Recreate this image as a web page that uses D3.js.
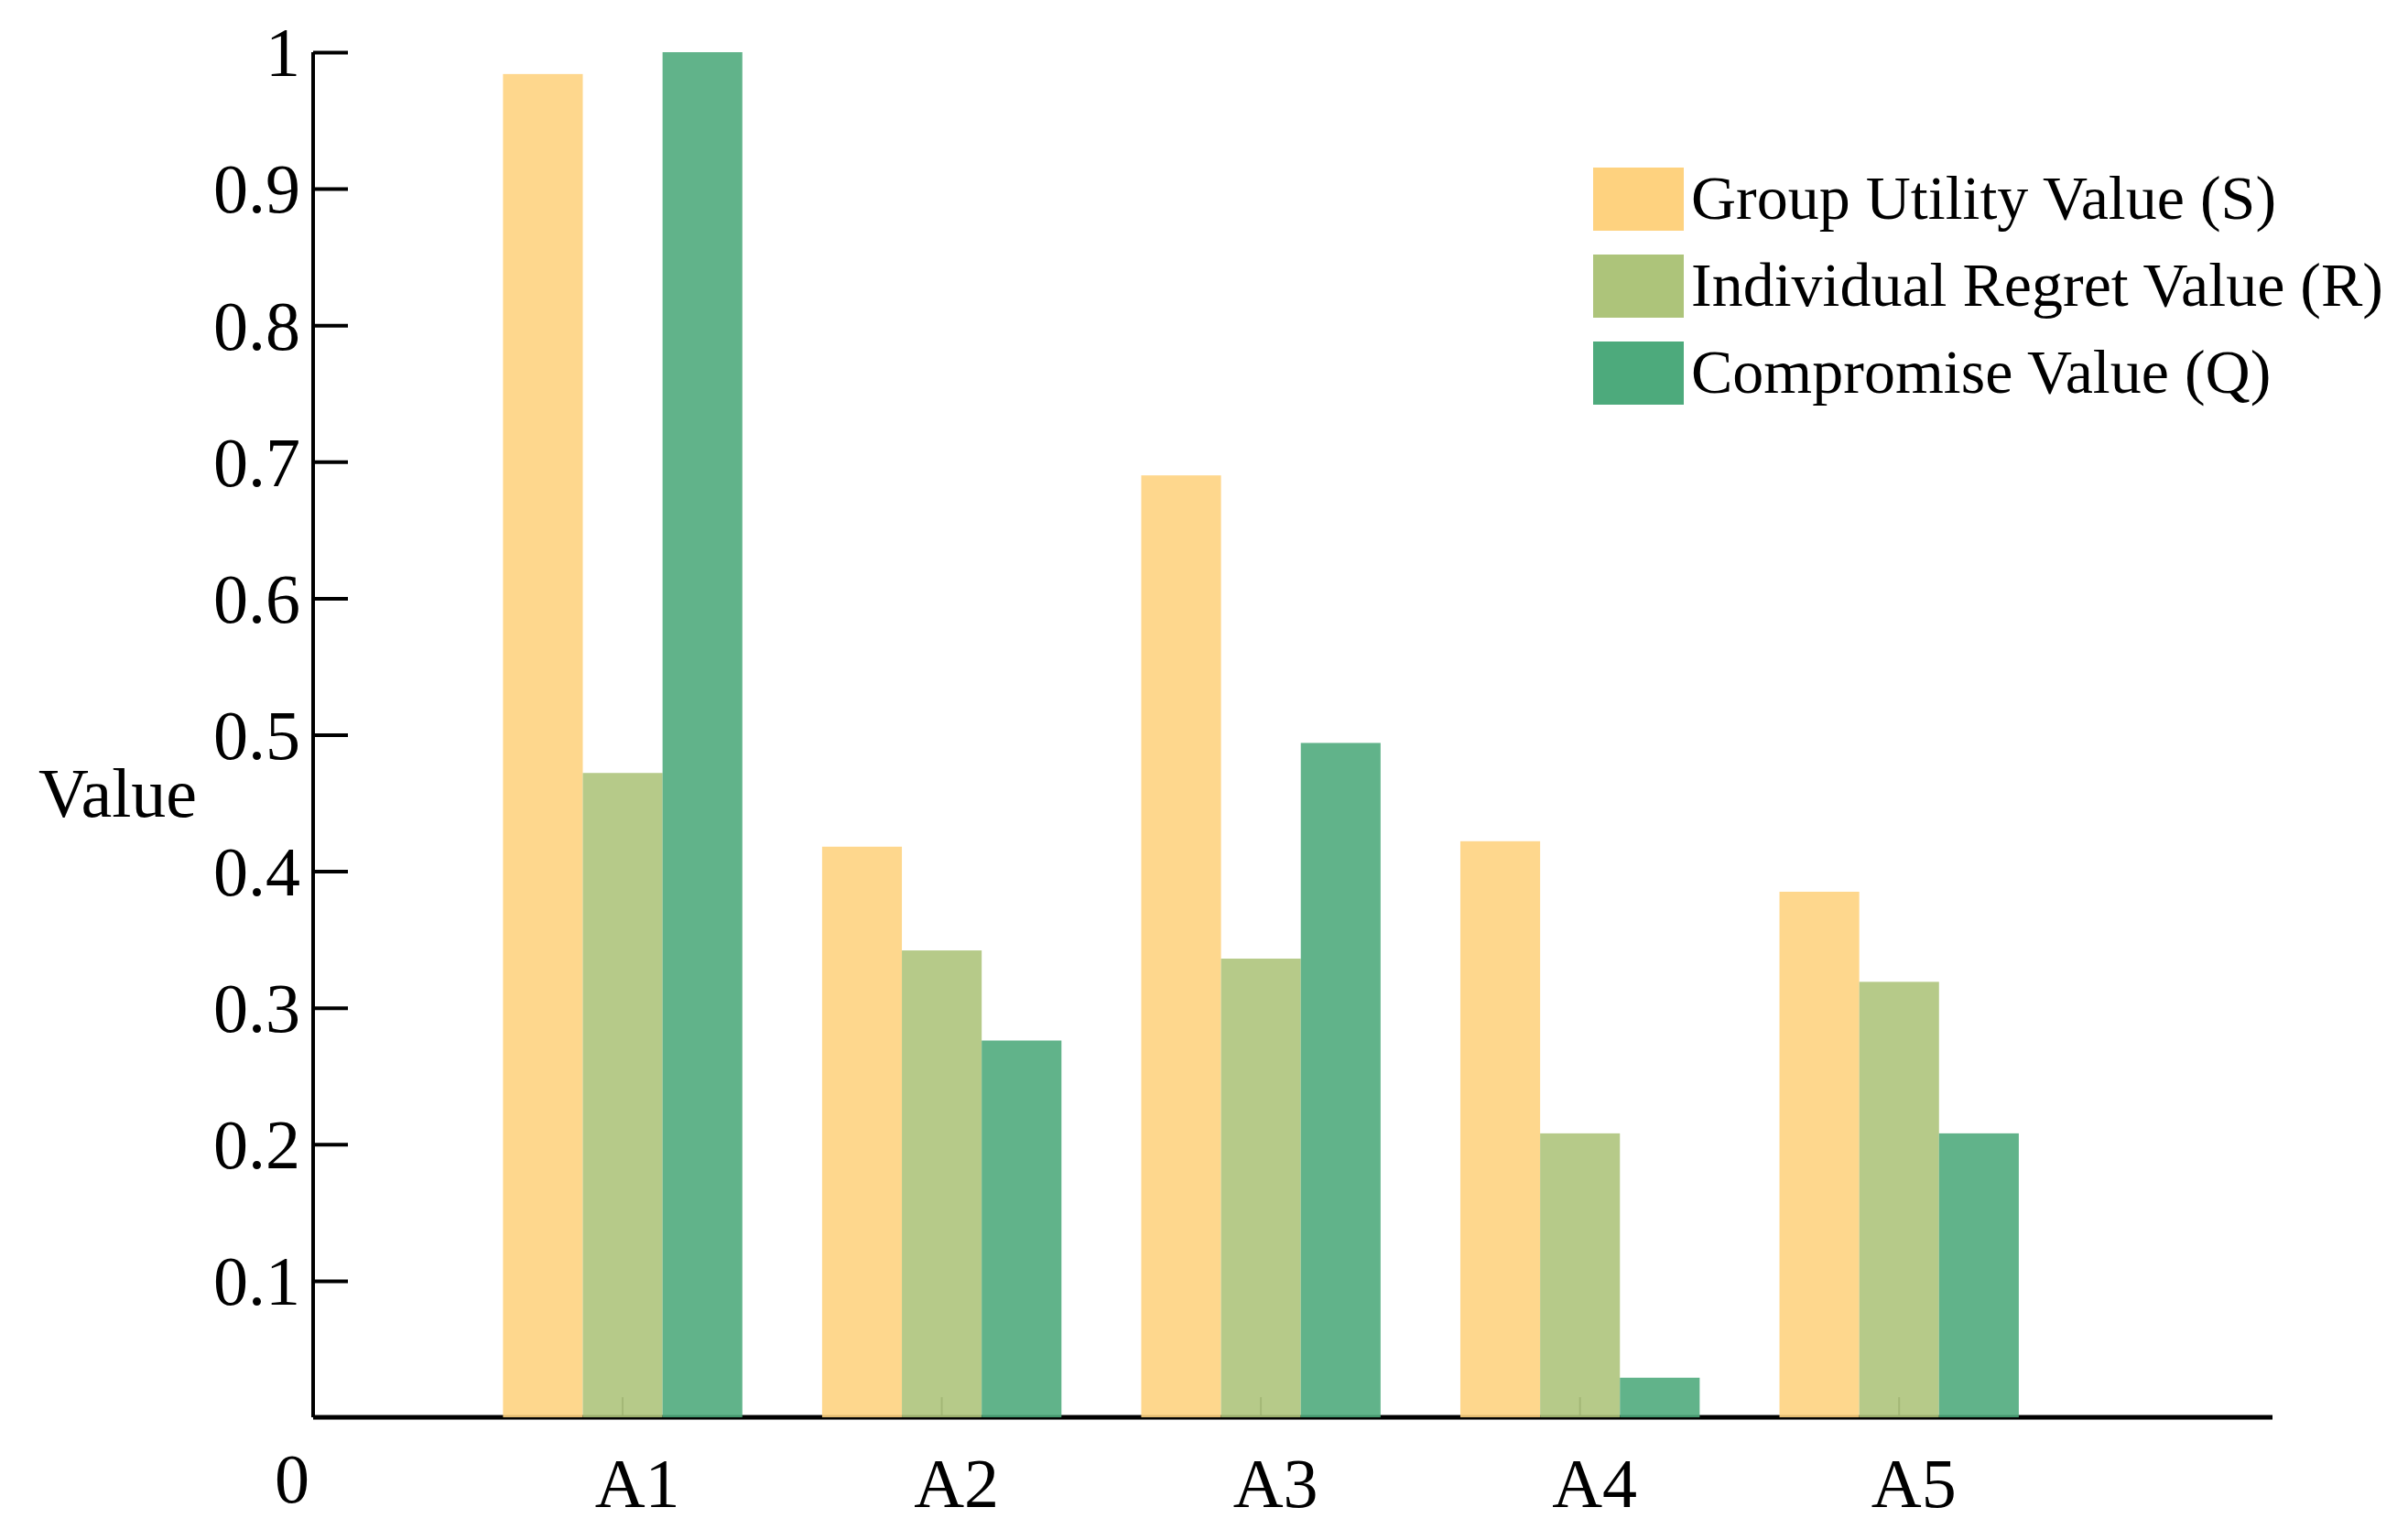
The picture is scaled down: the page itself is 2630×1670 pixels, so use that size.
<!DOCTYPE html>
<html>
<head>
<meta charset="utf-8">
<script src="https://cdn.jsdelivr.net/npm/d3@7"></script>
<style>
  body { margin: 0; background: #fff; }
  svg text { font-family: "Liberation Serif", "DejaVu Serif", serif; fill: #000; }
</style>
</head>
<body>
<svg id="chart"></svg>
<script>
// values
var categories = ["A1", "A2", "A3", "A4", "A5"];
var seriesNames = ["Group Utility Value (S)", "Individual Regret Value (R)", "Compromise Value (Q)"];
var sValues = [0.984, 0.418, 0.690, 0.422, 0.385];
var rValues = [0.472, 0.342, 0.336, 0.208, 0.319];
var qValues = [1.000, 0.276, 0.494, 0.029, 0.208];
var yTicks = [0.1, 0.2, 0.3, 0.4, 0.5, 0.6, 0.7, 0.8, 0.9, 1];
var colors = ["#fed27f", "#adc47a", "#4daa7c"];

var W = 2630, H = 1670;
var svg = d3.select("#chart").attr("width", W).attr("height", H);

var series = [sValues, rValues, qValues];

// x is a position scale, category i sits at i+1
var x = d3.scaleLinear().domain([0.03, 6.17]).range([342, 2482]);
var y = d3.scaleLinear().domain([0, 1]).range([1548, 57]);
var barW = x(1.25) - x(1);

//x axis ticks (behind the bars, they show through)
svg.append("g").selectAll("line")
  .data(categories)
  .enter().append("line")
  .attr("x1", function (d, i) { return x(i + 1); })
  .attr("x2", function (d, i) { return x(i + 1); })
  .attr("y1", y(0))
  .attr("y2", y(0) - 22)
  .style("stroke", "#555")
  .style("stroke-width", 2);

//x axis line
svg.append("line")
  .attr("x1", x.range()[0]).attr("x2", x.range()[1])
  .attr("y1", y(0)).attr("y2", y(0))
  .style("stroke", "#000").style("stroke-width", 5);

//bars
series.forEach(function (vals, s) {
  svg.append("g").selectAll("rect")
    .data(vals)
    .enter().append("rect")
    .attr("x", function (d, i) { return x(i + 1) + (s - 1.5) * barW; })
    .attr("width", barW)
    .attr("y", function (d) { return y(d); })
    .attr("height", function (d) { return y(0) - y(d); })
    .style("fill", colors[s])
    .style("fill-opacity", 0.89);
});

//y axis
var yAxis = svg.append("g")
  .attr("transform", "translate(" + x.range()[0] + ",0)")
  .call(d3.axisRight(y).tickValues(yTicks).tickSize(38).tickPadding(0).tickFormat(d3.format("")));
yAxis.select("path").remove();
yAxis.selectAll(".tick line").style("stroke", "#000").style("stroke-width", 4);
yAxis.selectAll(".tick text")
  .attr("x", -14)
  .attr("dy", "0.34em")
  .style("text-anchor", "end")
  .style("font-size", "76px")
  .style("font-family", "Liberation Serif");
yAxis.append("line")
  .attr("x1", 0).attr("x2", 0)
  .attr("y1", y(1)).attr("y2", y(0))
  .style("stroke", "#000").style("stroke-width", 4);

//category labels
svg.append("g").selectAll("text")
  .data(categories)
  .enter().append("text")
  .attr("x", function (d, i) { return x(i + 1) + 16; })
  .attr("y", 1646)
  .style("text-anchor", "middle")
  .style("font-size", "76px")
  .text(function (d) { return d; });

svg.append("text")
  .attr("x", 319).attr("y", 1641)
  .style("text-anchor", "middle")
  .style("font-size", "76px")
  .text("0");

svg.append("text")
  .attr("x", 42).attr("y", 892)
  .style("font-size", "76px")
  .text("Value");

//legend
var legend = svg.append("g").selectAll("g")
  .data(seriesNames)
  .enter().append("g")
  .attr("transform", function (d, i) { return "translate(1740," + (183 + i * 95) + ")"; });
legend.append("rect")
  .attr("width", 99).attr("height", 69)
  .style("fill", function (d, i) { return colors[i]; });
legend.append("text")
  .attr("x", 107).attr("y", 56)
  .style("font-size", "68px")
  .text(function (d) { return d; });
</script>
</body>
</html>
